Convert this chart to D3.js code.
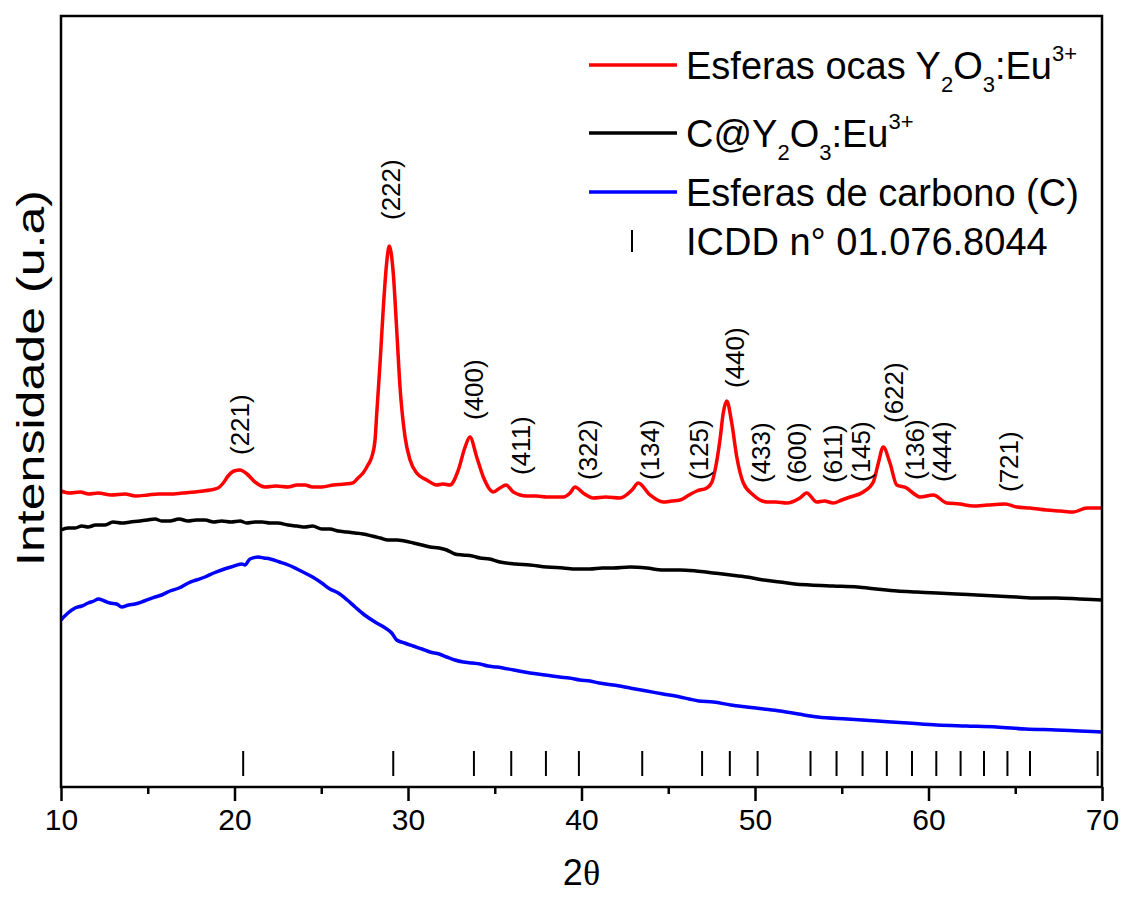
<!DOCTYPE html>
<html>
<head>
<meta charset="utf-8">
<script src="https://cdn.jsdelivr.net/npm/d3@7"></script>
<style>
  body { margin: 0; background: #fff; }
  svg text { font-family: "Liberation Sans", Arial, sans-serif; fill: #000; }
</style>
</head>
<body>
<script>
// 2theta (deg) vs intensity (a.u.)
var redData = [
  [10.0, 296], [10.5, 294], [11.1, 295], [11.6, 293], [12.13, 294], [12.9, 292], [13.69, 293],
  [14.3, 291], [15.01, 292], [15.6, 293], [16.28, 293], [17.0, 294], [17.72, 295], [18.2, 296],
  [18.59, 297], [19.05, 299], [19.35, 304], [19.63, 311], [19.97, 316], [20.32, 317],
  [20.72, 313], [21.18, 305], [21.76, 300], [22.4, 301], [23.08, 300], [23.6, 302], [24.06, 302],
  [24.5, 300], [25.04, 300], [25.7, 302], [26.37, 303], [26.8, 304], [27.12, 309], [27.41, 314],
  [27.69, 322], [27.91, 330], [28.10, 347], [28.2, 374], [28.39, 424], [28.58, 480], [28.77, 524],
  [28.92, 541], [29.15, 514], [29.35, 457], [29.54, 400], [29.83, 350], [30.12, 327], [30.5, 314],
  [31.08, 307], [31.65, 302], [32.0, 303], [32.42, 302], [32.9, 317], [33.29, 340], [33.57, 350],
  [33.96, 330], [34.34, 310], [34.92, 295], [35.30, 299], [35.65, 302], [36.07, 295], [36.84, 291],
  [37.4, 291], [37.99, 290], [38.5, 290], [38.95, 290], [39.34, 294], [39.63, 300], [40.09, 294],
  [40.68, 289], [41.4, 290], [42.22, 289], [42.91, 297], [43.27, 304], [43.95, 292], [44.71, 285],
  [45.2, 286], [45.68, 287], [46.2, 292], [46.64, 296], [47.22, 299], [47.52, 305], [47.7, 317],
  [47.98, 347], [48.17, 374], [48.37, 386], [48.66, 364], [48.95, 330], [49.33, 304], [49.9, 292],
  [50.67, 285], [51.2, 285], [51.83, 284], [52.59, 289], [52.98, 294], [53.56, 285], [54.0, 286],
  [54.51, 284], [55.0, 287], [55.48, 290], [56.24, 295], [56.82, 305], [57.11, 324], [57.39, 340],
  [57.78, 324], [58.17, 302], [58.74, 299], [59.1, 294], [59.51, 290], [60.28, 292], [61.05, 284],
  [61.8, 283], [62.58, 281], [63.4, 282], [64.41, 283], [65.1, 280], [65.85, 279], [66.8, 277],
  [67.6, 276], [68.35, 275], [69.12, 279], [70.0, 279]
];
var blackData = [
  [10.0, 257], [10.4, 259], [10.81, 259], [11.2, 261], [11.56, 260], [12.0, 262], [12.54, 262],
  [13.0, 265], [13.5, 264], [14.0, 265], [14.55, 266], [15.0, 267], [15.42, 268], [15.8, 266],
  [16.28, 266], [16.8, 268], [17.32, 266], [17.8, 267], [18.3, 267], [18.8, 265], [19.26, 266],
  [19.8, 265], [20.32, 266], [20.7, 264], [21.18, 265], [21.6, 265], [22.05, 264], [22.5, 264],
  [23.08, 262], [23.6, 261], [24.06, 260], [24.5, 261], [25.03, 258], [25.5, 258], [25.97, 256],
  [26.5, 255], [26.95, 254], [27.4, 253], [27.93, 251], [28.4, 249], [28.85, 247], [29.35, 247],
  [29.8, 246], [30.31, 244], [30.8, 242], [31.27, 240], [31.8, 239], [32.23, 237], [32.7, 233],
  [33.17, 232], [33.7, 231], [34.15, 229], [34.7, 228], [35.3, 225], [36.2, 223], [37.03, 222],
  [38.0, 220], [38.95, 219], [39.7, 218], [40.49, 218], [41.2, 219], [41.83, 219], [42.8, 220],
  [43.76, 219], [44.7, 217], [45.68, 217], [46.6, 216], [47.6, 214], [48.6, 212], [49.52, 210],
  [50.5, 207], [51.44, 205], [52.3, 203], [53.17, 202], [54.5, 201], [55.91, 200], [57.0, 198],
  [58.2, 196], [59.3, 195], [60.49, 194], [61.6, 193], [62.78, 192], [63.9, 191], [65.07, 190],
  [66.2, 189], [67.35, 189], [68.7, 188], [70.0, 187]
];
var blueData = [
  [10.0, 167], [10.4, 174], [10.81, 179], [11.2, 181], [11.57, 184], [11.9, 186], [12.15, 188],
  [12.5, 186], [12.82, 184], [13.2, 183], [13.5, 180], [13.9, 182], [14.27, 183], [14.8, 186],
  [15.42, 190], [15.8, 192], [16.28, 196], [16.8, 199], [17.34, 204], [17.8, 207], [18.3, 210],
  [18.8, 214], [19.26, 217], [19.8, 220], [20.42, 223], [20.6, 222], [20.89, 228], [21.37, 230],
  [21.7, 229], [22.05, 228], [22.6, 225], [23.1, 222], [23.6, 218], [24.06, 214], [24.5, 210],
  [25.03, 204], [25.5, 198], [25.98, 194], [26.5, 187], [26.95, 180], [27.5, 172], [28.1, 165],
  [28.6, 160], [29.06, 154], [29.35, 147], [29.8, 144], [30.29, 141], [30.8, 138], [31.27, 135],
  [31.8, 133], [32.23, 130], [32.7, 127], [33.19, 125], [33.7, 124], [34.15, 123], [34.6, 121],
  [35.11, 120], [36.1, 117], [37.03, 114], [37.9, 112], [38.74, 110], [39.3, 109], [39.91, 107],
  [40.5, 106], [41.01, 104], [41.83, 102], [42.8, 99], [43.76, 96], [44.7, 93], [45.68, 90],
  [46.2, 88], [46.75, 86], [47.6, 85], [48.6, 82], [49.52, 80], [50.5, 78], [51.44, 76],
  [52.5, 73], [53.62, 70], [55.3, 68], [57.05, 66], [58.8, 64], [60.49, 62], [62.2, 61],
  [63.92, 60], [65.6, 58], [67.35, 57], [68.7, 56], [70.0, 55]
];
// ICDD 01.076.8044 reference positions
var icddPeaks = [20.5, 29.15, 33.8, 35.95, 37.95, 39.85, 43.5, 46.95, 48.55, 50.15,
  53.2, 54.7, 56.2, 57.6, 59.05, 60.45, 61.85, 63.2, 64.55, 65.85, 69.75];
// (hkl) labels: text, 2theta, intensity where the label starts
var peakLabels = [
  ["(221)", 20.32, 332], ["(222)", 29.02, 567], ["(400)", 33.8, 367], ["(411)", 36.51, 312],
  ["(322)", 40.37, 307], ["(134)", 43.95, 307], ["(125)", 46.77, 307], ["(440)", 48.85, 399],
  ["(433)", 50.35, 304], ["(600)", 52.42, 304], ["(611)", 54.5, 304], ["(145)", 56.11, 305],
  ["(622)", 58.01, 364], ["(136)", 59.22, 307], ["(444)", 60.78, 305], ["(721)", 64.64, 295]
];
var xTicks = [10, 20, 30, 40, 50, 60, 70];

var width = 1123,
    height = 899;
var margin = {top: 16, right: 21, bottom: 112, left: 61};

var svg = d3.select("body").append("svg")
    .attr("width", width)
    .attr("height", height);

var x = d3.scaleLinear()
    .domain([10, 70])
    .range([margin.left, width - margin.right]);
var y = d3.scaleLinear()
    .domain([0, 771])
    .range([height - margin.bottom, margin.top]);

var line = d3.line()
    .x(function(d) { return x(d[0]); })
    .y(function(d) { return y(d[1]); })
    .curve(d3.curveMonotoneX);

var series = [
  {data: blueData, color: "#0000ff"},
  {data: blackData, color: "#000000"},
  {data: redData, color: "#ff0000"}
];

svg.selectAll(".curve")
  .data(series)
  .enter().append("path")
    .attr("class", "curve")
    .attr("d", function(d) { return line(d.data); })
    .attr("fill", "none")
    .attr("stroke", function(d) { return d.color; })
    .attr("stroke-width", 3.5)
    .attr("stroke-linejoin", "round");

// reference bars
svg.selectAll(".icdd")
  .data(icddPeaks)
  .enter().append("line")
    .attr("class", "icdd")
    .attr("x1", function(d) { return x(d); })
    .attr("x2", function(d) { return x(d); })
    .attr("y1", y(11))
    .attr("y2", y(36))
    .attr("stroke", "#000")
    .attr("stroke-width", 2);

svg.selectAll(".hkl")
  .data(peakLabels)
  .enter().append("text")
    .attr("class", "hkl")
    .attr("transform", function(d) { return "translate(" + x(d[1]) + "," + y(d[2]) + ") rotate(-90)"; })
    .attr("dy", "0.35em")
    .style("font-size", "26px")
    .text(function(d) { return d[0]; });

// frame
svg.append("rect")
    .attr("x", margin.left)
    .attr("y", margin.top)
    .attr("width", width - margin.left - margin.right)
    .attr("height", height - margin.top - margin.bottom)
    .attr("fill", "none")
    .attr("stroke", "#000")
    .attr("stroke-width", 2.5);

var xAxis = d3.axisBottom(x)
    .tickValues(xTicks)
    .tickSize(14)
    .tickPadding(8)
    .tickFormat(d3.format("d"));

var gx = svg.append("g")
    .attr("transform", "translate(0," + (height - margin.bottom) + ")")
    .call(xAxis);
gx.select(".domain").remove();
gx.selectAll(".tick line").attr("stroke-width", 2.5);
gx.selectAll(".tick text")
    .style("font-size", "30px")
    .style("font-family", "'Liberation Sans', Arial, sans-serif");

var gxm = svg.append("g")
    .attr("transform", "translate(0," + (height - margin.bottom) + ")")
    .call(d3.axisBottom(x).tickValues([15, 25, 35, 45, 55, 65]).tickSize(7).tickFormat(""));
gxm.select(".domain").remove();
gxm.selectAll(".tick line").attr("stroke-width", 2.5);

// axis titles
var xt = svg.append("text")
    .attr("x", (x(10) + x(70)) / 2)
    .attr("y", 885)
    .attr("text-anchor", "middle")
    .style("font-size", "36px");
xt.append("tspan").text("2");
xt.append("tspan").style("font-family", "'Liberation Serif', 'Times New Roman', serif").text("\u03b8");

svg.append("text")
    .attr("transform", "translate(44,378) rotate(-90)")
    .attr("text-anchor", "middle")
    .attr("textLength", 376)
    .attr("lengthAdjust", "spacingAndGlyphs")
    .style("font-size", "39px")
    .text("Intensidade (u.a)");

// legend
var legendItems = [
  {color: "#ff0000", parts: [["Esferas ocas Y", ""], ["2", "sub"], ["O", ""], ["3", "sub"], [":Eu", ""], ["3+", "sup"]]},
  {color: "#000000", parts: [["C@Y", ""], ["2", "sub"], ["O", ""], ["3", "sub"], [":Eu", ""], ["3+", "sup"]]},
  {color: "#0000ff", parts: [["Esferas de carbono (C)", ""]]},
  {color: null, parts: [["ICDD n\u00b0 01.076.8044", ""]]}
];
var legendRows = [65, 133, 192, 241];

var lg = svg.selectAll(".legend")
  .data(legendItems)
  .enter().append("g")
    .attr("class", "legend")
    .attr("transform", function(d, i) { return "translate(0," + legendRows[i] + ")"; });

lg.filter(function(d) { return d.color; }).append("line")
    .attr("x1", 589).attr("x2", 677)
    .attr("stroke", function(d) { return d.color; })
    .attr("stroke-width", 3.5);
lg.filter(function(d) { return !d.color; }).append("line")
    .attr("x1", 632).attr("x2", 632)
    .attr("y1", -11).attr("y2", 11)
    .attr("stroke", "#000")
    .attr("stroke-width", 2);

lg.append("text")
    .attr("x", 686)
    .attr("y", 14)
    .style("font-size", "38px")
    .each(function(d) {
      var t = d3.select(this);
      var shift = 0;
      d.parts.forEach(function(p) {
        var ts = t.append("tspan").text(p[0]);
        var target = p[1] === "sub" ? 13 : p[1] === "sup" ? -18 : 0;
        if (p[1]) ts.style("font-size", "22px");
        if (target !== shift) { ts.attr("dy", target - shift); shift = target; }
      });
    });
</script>
</body>
</html>
